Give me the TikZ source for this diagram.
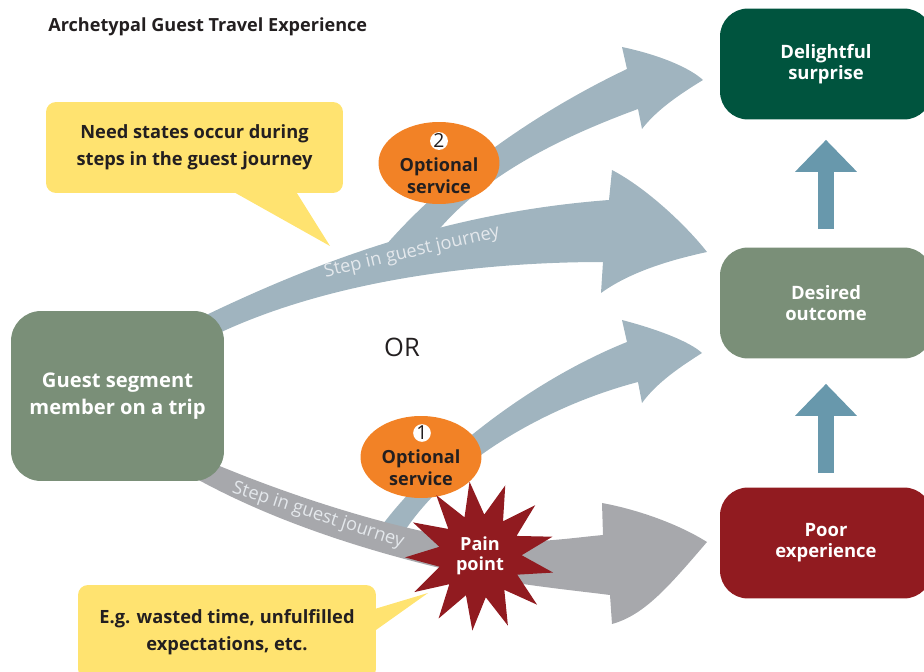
\documentclass[tikz,border=0pt]{standalone}
\usepackage{fontspec}
\setmainfont{Open Sans}
\usepackage{tikz}
\usetikzlibrary{shapes.geometric, positioning, arrows.meta, calc}
\definecolor{GTYellow}{RGB}{255,227,112}
\definecolor{GTOrange}{RGB}{242,130,38}
\definecolor{GTSage}{RGB}{122,143,120}
\definecolor{GTForest}{RGB}{0,84,62}
\definecolor{GTMaroon}{RGB}{145,27,32}
\definecolor{GTSteel}{RGB}{160,180,191}
\definecolor{GTGrey}{RGB}{167,168,172}
\definecolor{GTBlue}{RGB}{104,152,172}
\definecolor{GTInk}{RGB}{35,31,32}
\definecolor{GTLabel}{RGB}{228,232,236}

\begin{document}
\begin{tikzpicture}[x=0.02cm, y=-0.02cm,
          outcome/.style={rectangle, rounded corners=0.56cm,
                          minimum width=4.24cm, minimum height=2.22cm,
                          text=white, align=center,
                          font=\fontsize{10.5}{12}\selectfont\bfseries},
          callout/.style={rectangle, rounded corners=0.2cm, fill=GTYellow,
                          text=GTInk, align=center,
                          font=\fontsize{10.4}{15.3}\selectfont\bfseries},
          optional/.style={ellipse, fill=GTOrange, inner sep=0pt,
                           minimum width=2.42cm, minimum height=1.64cm},
          optlbl/.style={text=GTInk, align=center,
                         font=\fontsize{10.3}{12.5}\selectfont\bfseries},
          numdot/.style={circle, fill=white, inner sep=0pt, minimum size=0.32cm,
                         text=GTInk, font=\fontsize{11}{11}\selectfont},
          uparr/.style={-{Triangle[width=1.2cm, length=0.64cm]},
                        line width=0.32cm, GTBlue},
          steplbl/.style={inner sep=0pt, text=GTLabel,
                          font=\fontsize{10.4}{10.4}\selectfont}
        ]
        \useasboundingbox (0,0) rectangle (924,672);

        % journey bands
        \fill[GTSteel] (375,258) .. controls (430,190) and (520,120) .. (627,69)
              -- (622,47) .. controls (660,55) and (690,68) .. (703,80)
              .. controls (675,97) and (655,112) .. (642,129)
              -- (638,109) .. controls (540,145) and (460,190) .. (418,258) -- cycle;
        \fill[GTSteel] (375,535) .. controls (420,470) and (520,385) .. (627,342)
              -- (622,320) .. controls (660,330) and (690,342) .. (702,353)
              .. controls (675,370) and (655,385) .. (642,403)
              -- (638,382) .. controls (550,405) and (450,460) .. (402,535) -- cycle;
        \fill[GTSteel] (200,318) .. controls (320,260) and (450,212) .. (609,200)
              -- (612,170) .. controls (650,190) and (690,230) .. (707,252)
              .. controls (670,260) and (630,272) .. (601,293)
              -- (603,262) .. controls (480,262) and (330,280) .. (215,335) -- cycle;
        \fill[GTGrey] (210,462) .. controls (300,500) and (400,530) .. (470,540)
              .. controls (530,545) and (570,538) .. (603,535)
              -- (602,503) .. controls (640,510) and (680,525) .. (707,542)
              .. controls (670,585) and (645,615) .. (612,624)
              -- (610,595) .. controls (570,590) and (520,585) .. (470,575)
              .. controls (380,555) and (280,525) .. (195,478) -- cycle;

        \node[steplbl, rotate=13]  (stepup)   at (412,252.5) {Step in guest journey};
        \node[steplbl, rotate=-18] (steplow)  at (318,515.5) {Step in guest journey};

        % outcomes
        \node[outcome, fill=GTForest] (delight) at (826,64) {Delightful\\surprise};
        \node[outcome, fill=GTSage]   (desired) at (826,303) {Desired\\outcome};
        \node[outcome, fill=GTMaroon] (poor)    at (826,543) {Poor\\experience};
        \node[outcome, fill=GTSage, minimum width=4.26cm, minimum height=3.4cm,
              rounded corners=0.6cm, font=\fontsize{11.5}{15.3}\selectfont\bfseries]
              (guest) at (117.5,396) {Guest segment\\member on a trip};

        \draw[uparr, shorten <=0.28cm, shorten >=0.5cm] (poor) -- (desired);
        \draw[uparr, shorten <=0.36cm, shorten >=0.4cm] (desired) -- (delight);

        % services and pain
        \node[optional] (opt2) at (439,163) {};
        \node[optional] (opt1) at (421,457) {};
        \node[optlbl] (opt2txt) at (439,176) {Optional\\service};
        \node[optlbl] (opt1txt) at (421,468) {Optional\\service};
        \node[numdot] (num2) at (439,141) {2};
        \node[numdot] (num1) at (422,433) {1};
        \node[star, star points=13, star point ratio=1.8, minimum size=3cm,
              shape border rotate=8, fill=GTMaroon, inner sep=0pt, text=white,
              align=center, font=\fontsize{10.3}{11.5}\selectfont\bfseries]
              (pain) at (480,556) {Pain\\point};

        % callouts
        \node[callout, minimum width=5.94cm, minimum height=1.82cm] (need)
              at (194.5,147.5) {Need states occur during\\steps in the guest journey};
        \coordinate (needtip) at (330,246);
        \fill[GTYellow] ([xshift=0.77cm, yshift=1pt]need.south) -- (needtip)
              -- ([xshift=2.03cm, yshift=1pt]need.south) -- cycle;
        \node[callout, minimum width=5.96cm, minimum height=1.88cm] (eg)
              at (227,632) {E.g. wasted time, unfulfilled\\expectations, etc.};
        \coordinate (egtip) at (428,593);
        \fill[GTYellow] ([xshift=-1pt, yshift=0.46cm]eg.east) -- (egtip)
              -- ([xshift=-1pt, yshift=0.02cm]eg.east) -- cycle;

        \node[anchor=west, inner sep=0pt, text=GTInk,
              font=\fontsize{10.3}{13}\selectfont\bfseries] (title)
              at (48,26.5) {Archetypal Guest Travel Experience};
        \node[text=GTInk, font=\fontsize{14.5}{15}\selectfont] (orlbl) at (402,347) {OR};
      \end{tikzpicture}
\end{document}
